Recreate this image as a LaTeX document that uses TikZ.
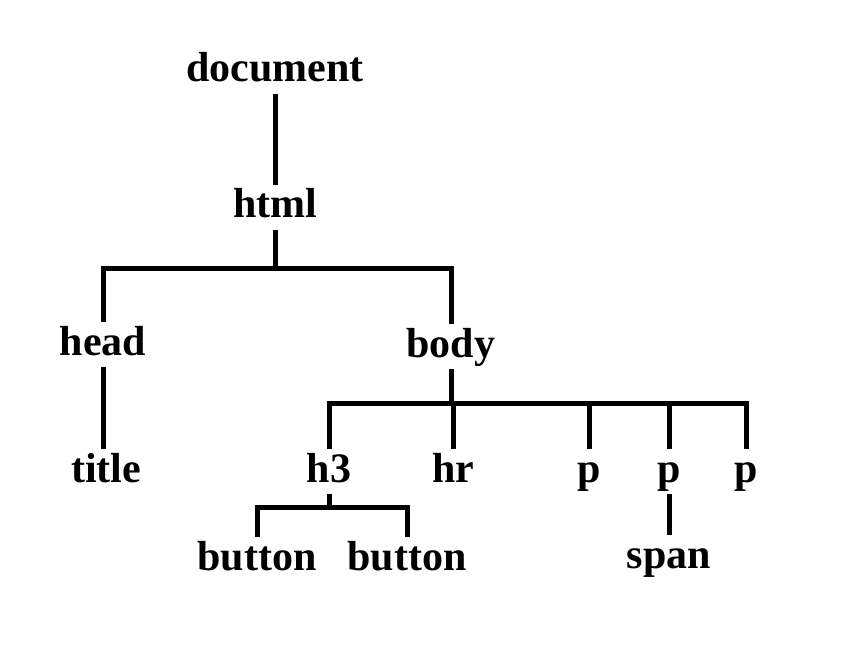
\documentclass[tikz,border=0pt]{standalone}
\usepackage{fontspec}
\setmainfont{Liberation Serif}

\begin{document}
\begin{tikzpicture}[
    x=1pt, y=-1pt,
    tag/.style={anchor=base, inner sep=3pt, text height=30pt, text depth=9pt,
                font=\fontsize{42}{46}\selectfont\bfseries},
    link/.style={line width=5pt}
  ]
    \useasboundingbox (0,0) rectangle (844,650);

    \node[tag] (doc) at (275,82) {document};
    \node[tag] (html) at (275,218) {html};
    \node[tag] (head) at (103,355) {head};
    \node[tag] (body) at (451,357) {body};
    \node[tag] (title) at (106,482) {title};
    \node[tag] (h3) at (329,482) {h3};
    \node[tag] (hr) at (453,482) {hr};
    \node[tag] (p1) at (589,482) {p};
    \node[tag] (p2) at (669,482) {p};
    \node[tag] (p3) at (746,482) {p};
    \node[tag] (btn1) at (257,570) {button};
    \node[tag] (btn2) at (407,570) {button};
    \node[tag] (span) at (669,568) {span};

    \coordinate (forkhtml) at (275,268);
    \coordinate (forkbody) at (451,403);
    \coordinate (forkh3) at (329,507);

    \draw[link] (doc) -- (html);
    \draw[link] (html) -- (forkhtml) -| (head.north);
    \draw[link] (forkhtml) -| (body.north);
    \draw[link] (head.south) -- (head.south |- title.north);
    \draw[link] (body) -- (forkbody) -| (h3.north);
    \draw[link] (forkbody) -| (hr.north);
    \draw[link] (forkbody) -| (p1.north);
    \draw[link] (forkbody) -| (p2.north);
    \draw[link] (forkbody) -| (p3.north);
    \draw[link] (h3) -- (forkh3) -| (btn1.north);
    \draw[link] (forkh3) -| (btn2.north);
    \draw[link] (p2) -- (span);
\end{tikzpicture}
\end{document}
